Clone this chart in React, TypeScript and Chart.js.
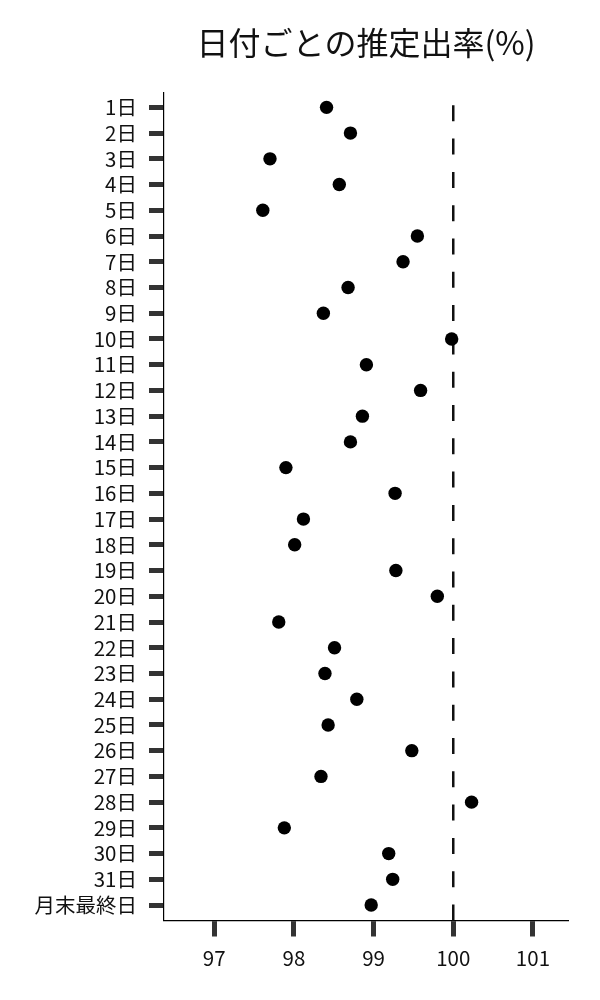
import React, { useEffect, useRef } from "react";
import { Chart, registerables } from "chart.js";

Chart.register(...registerables);

const TITLE = "日付ごとの推定出率(%)";

const DAY_LABELS = [
  "1日", "2日", "3日", "4日", "5日", "6日", "7日", "8日", "9日", "10日",
  "11日", "12日", "13日", "14日", "15日", "16日", "17日", "18日", "19日", "20日",
  "21日", "22日", "23日", "24日", "25日", "26日", "27日", "28日", "29日", "30日",
  "31日", "月末最終日",
];

const RATES = [
  98.41, 98.71, 97.70, 98.57, 97.61, 99.55, 99.37, 98.68, 98.37, 99.98,
  98.91, 99.59, 98.86, 98.71, 97.90, 99.27, 98.12, 98.01, 99.28, 99.80,
  97.81, 98.51, 98.39, 98.79, 98.43, 99.48, 98.34, 100.23, 97.88, 99.19,
  99.24, 98.97,
];

const X_TICKS = [97, 98, 99, 100, 101];
const X_MIN = 96.37;
const X_MAX = 101.44;
const Y_PAD_TOP = 0.57;
const Y_PAD_BOTTOM = 0.6;
const REFERENCE_VALUE = 100;

const FONT = "'Noto Sans CJK JP', 'Noto Sans', sans-serif";

const refLinePlugin = {
  id: "refLine",
  beforeDatasetsDraw(chart: any) {
    const { ctx, chartArea, scales } = chart;
    const x = scales.x.getPixelForValue(REFERENCE_VALUE);
    ctx.save();
    ctx.strokeStyle = "#111";
    ctx.lineWidth = 2.5;
    ctx.setLineDash([16, 17.3]);
    ctx.beginPath();
    ctx.moveTo(x, chartArea.bottom);
    ctx.lineTo(x, chartArea.top);
    ctx.stroke();
    ctx.restore();
  },
};

export default function App() {
  const canvasRef = useRef<HTMLCanvasElement | null>(null);

  useEffect(() => {
    if (!canvasRef.current) return;
    const points = RATES.map((v, i) => ({ x: v, y: i }));
    const chart = new Chart(canvasRef.current, {
      type: "scatter",
      data: {
        datasets: [
          {
            data: points,
            showLine: false,
            pointRadius: 6.7,
            pointHoverRadius: 6.7,
            pointBackgroundColor: "#000",
            pointBorderWidth: 0,
            borderColor: "#000",
          },
        ],
      },
      options: {
        responsive: false,
        animation: false,
        layout: { padding: { left: 0, right: 32, top: 0, bottom: 0 } },
        plugins: {
          legend: { display: false },
          tooltip: { enabled: false },
          title: {
            display: true,
            text: TITLE,
            fullSize: false,
            color: "#111",
            font: { family: FONT, size: 32, weight: "normal" },
            padding: { top: 24, bottom: 30.3 },
          },
        },
        scales: {
          y: {
            type: "linear",
            reverse: true,
            min: -Y_PAD_TOP,
            max: DAY_LABELS.length - 1 + Y_PAD_BOTTOM,
            grid: {
              drawOnChartArea: false,
              drawTicks: true,
              tickLength: 15,
              tickWidth: 5,
              tickColor: "#333",
            },
            border: { display: true, color: "#000", width: 1.2 },
            ticks: {
              font: { family: FONT, size: 20.5 },
              color: "#111",
              padding: 12,
              autoSkip: false,
              callback: (v: any) => DAY_LABELS[v as number] ?? "",
            },
            afterBuildTicks: (s: any) => {
              s.ticks = DAY_LABELS.map((_, i) => ({ value: i }));
            },
            afterFit: (s: any) => {
              s.width = 164;
            },
          },
          x: {
            type: "linear",
            position: "bottom",
            min: X_MIN,
            max: X_MAX,
            grid: {
              drawOnChartArea: false,
              drawTicks: true,
              tickLength: 16,
              tickWidth: 5,
              tickColor: "#333",
            },
            border: { display: true, color: "#000", width: 1.2 },
            ticks: {
              font: { family: FONT, size: 20.5 },
              color: "#111",
              padding: 9,
            },
            afterBuildTicks: (s: any) => {
              s.ticks = X_TICKS.map((v) => ({ value: v }));
            },
            afterFit: (s: any) => {
              s.height = 79.5;
            },
          },
        },
      } as any,
      plugins: [refLinePlugin],
    });
    return () => chart.destroy();
  }, []);

  return (
    <div style={{ position: "absolute", left: 0, top: 0, width: 600, height: 1000, background: "#fff" }}>
      <canvas ref={canvasRef} width={600} height={1000} />
    </div>
  );
}
